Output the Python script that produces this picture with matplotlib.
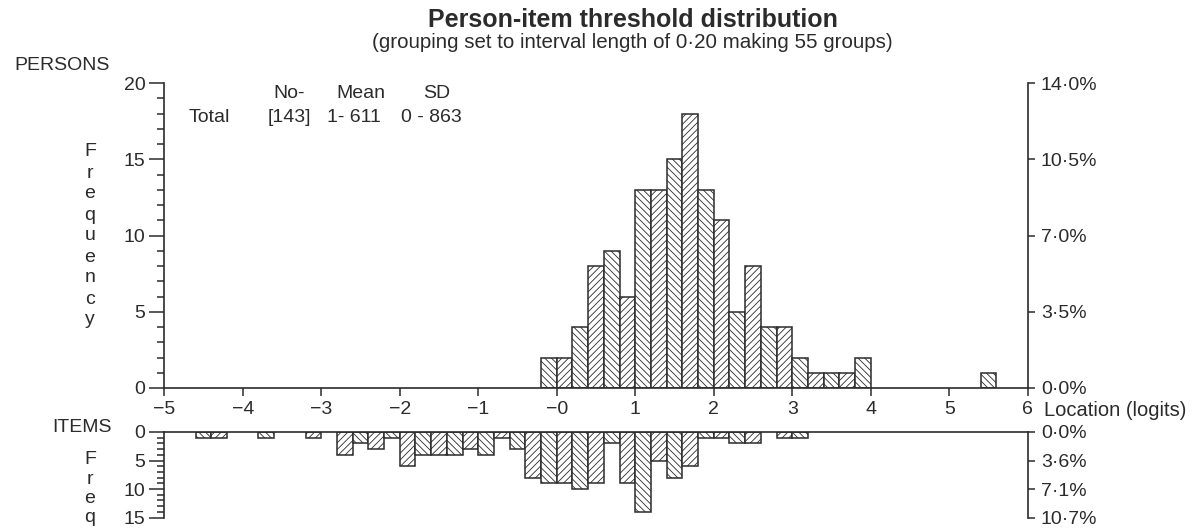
import numpy as np
import matplotlib.pyplot as plt
from matplotlib.ticker import MultipleLocator

plt.rcParams['font.family'] = ['Liberation Sans', 'DejaVu Sans']
plt.rcParams['hatch.linewidth'] = 0.6

# lower edge of each 0.2-logit group and its count
person_lo = [-0.2, 0.0, 0.2, 0.4, 0.6, 0.8, 1.0, 1.2, 1.4, 1.6, 1.8,
             2.0, 2.2, 2.4, 2.6, 2.8, 3.0, 3.2, 3.4, 3.6, 3.8, 5.4]
person_n = [2, 2, 4, 8, 9, 6, 13, 13, 15, 18, 13,
            11, 5, 8, 4, 4, 2, 1, 1, 1, 2, 1]

item_lo = [-4.6, -4.4, -3.8, -3.2, -2.8, -2.6, -2.4, -2.2, -2.0, -1.8, -1.6,
           -1.4, -1.2, -1.0, -0.8, -0.6, -0.4, -0.2, 0.0, 0.2, 0.4, 0.6,
           0.8, 1.0, 1.2, 1.4, 1.6, 1.8, 2.0, 2.2, 2.4, 2.8, 3.0]
item_n = [1, 1, 1, 1, 4, 2, 3, 1, 6, 4, 4,
          4, 3, 4, 1, 3, 8, 9, 9, 10, 9, 2,
          9, 14, 5, 8, 6, 1, 1, 2, 2, 1, 1]

xticks = [-5, -4, -3, -2, -1, 0, 1, 2, 3, 4, 5, 6]
xticklabels = ['\u22125', '\u22124', '\u22123', '\u22122', '\u22121', '\u22120',
               '1', '2', '3', '4', '5', '6']

W, H = 1194, 530
fig = plt.figure(figsize=(W / 100, H / 100), dpi=100)
ink = '#2b2b2b'
fs = 14


def px_axes(left, top, right, bottom):
    return fig.add_axes([left / W, 1 - bottom / H, (right - left) / W, (bottom - top) / H])


def ftext(x, y, s, **kw):
    kw.setdefault('fontsize', fs)
    kw.setdefault('color', ink)
    return fig.text(x / W, 1 - y / H, s, **kw)


def draw_bars(ax, lo, n):
    for x0, c in zip(lo, n):
        k = int(round(x0 / 0.2))
        hatch = '\\\\\\\\\\' if k % 2 else '/////'
        ax.bar(x0, c, width=0.2, align='edge', facecolor='white',
               edgecolor=ink, linewidth=1.1, hatch=hatch, zorder=2)


def pct(v, total):
    return f'{100 * v / total:.1f}%'.replace('.', '\u00b7')


def style_spines(ax, show):
    for side, sp in ax.spines.items():
        sp.set_visible(side in show)
        sp.set_color(ink)
        sp.set_linewidth(1.2)


ax_p = px_axes(164.3, 83, 1027.7, 388)
ax_i = px_axes(164.3, 432, 1027.7, 517.5)

# persons panel
draw_bars(ax_p, person_lo, person_n)
ax_p.set_xlim(-5, 6)
ax_p.set_ylim(0, 20)
style_spines(ax_p, ['left', 'bottom'])
ax_p.set_xticks(xticks)
ax_p.set_xticklabels(xticklabels)
ax_p.yaxis.set_major_locator(MultipleLocator(5))
ax_p.yaxis.set_minor_locator(MultipleLocator(1))
ax_p.tick_params(axis='y', which='major', length=10.5, width=1.1, pad=3,
                 colors=ink, labelsize=fs)
ax_p.tick_params(axis='y', which='minor', length=5, width=1.1, colors=ink)
ax_p.tick_params(axis='x', length=5.5, width=1.1, pad=3.5, colors=ink, labelsize=fs)
ax_p.patch.set_alpha(0)

n_p = sum(person_n)
axr_p = ax_p.twinx()
axr_p.set_ylim(0, 20)
style_spines(axr_p, ['right'])
axr_p.set_yticks([0, 5, 10, 15, 20])
axr_p.set_yticklabels([pct(v, n_p) for v in [0, 5, 10, 15, 20]])
axr_p.tick_params(axis='y', length=5, width=1.1, pad=4.5, colors=ink, labelsize=fs)

# items panel, bars hang down from the zero line
draw_bars(ax_i, item_lo, item_n)
ax_i.set_xlim(-5, 6)
ax_i.set_ylim(15, 0)
style_spines(ax_i, ['left', 'top'])
ax_i.tick_params(axis='x', bottom=False, top=False, labelbottom=False)
ax_i.yaxis.set_major_locator(MultipleLocator(5))
ax_i.yaxis.set_minor_locator(MultipleLocator(1))
ax_i.tick_params(axis='y', which='major', length=10.5, width=1.1, pad=3,
                 colors=ink, labelsize=fs)
ax_i.tick_params(axis='y', which='minor', length=5, width=1.1, colors=ink)
ax_i.patch.set_alpha(0)

n_i = sum(item_n)
axr_i = ax_i.twinx()
axr_i.set_ylim(15, 0)
style_spines(axr_i, ['right'])
axr_i.set_yticks([0, 5, 10, 15])
axr_i.set_yticklabels([pct(v, n_i) for v in [0, 5, 10, 15]])
axr_i.tick_params(axis='y', length=5, width=1.1, pad=4.5, colors=ink, labelsize=fs)

# titles and annotations
ftext(632.5, 20, 'Person-item threshold distribution', ha='center', va='center',
      fontsize=18, fontweight='bold')
ftext(632.5, 43, '(grouping set to interval length of 0\u00b720 making 55 groups)',
      ha='center', va='center', fontsize=14.8)
ftext(62, 65, 'PERSONS', ha='center', va='center')
ftext(82, 428, 'ITEMS', ha='center', va='center')
ftext(1044, 410, 'Location (logits)', ha='left', va='center', fontsize=14.5)

for i, ch in enumerate('Frequency'):
    ftext(90, 152 + 21 * i, ch, ha='center', va='center')
# the lower axis label runs off the bottom edge after a few letters
for i, ch in enumerate('Freq'):
    ftext(90, 460 + 19.3 * i, ch, ha='center', va='center')

ftext(289, 93, 'No-', ha='center', va='center')
ftext(361, 93, 'Mean', ha='center', va='center')
ftext(437, 93, 'SD', ha='center', va='center')
ftext(209, 118, 'Total', ha='center', va='center')
ftext(289, 118, '[143]', ha='center', va='center')
ftext(354, 118, '1- 611', ha='center', va='center')
ftext(431, 118, '0 - 863', ha='center', va='center')

fig.savefig('out.png', dpi=100)
